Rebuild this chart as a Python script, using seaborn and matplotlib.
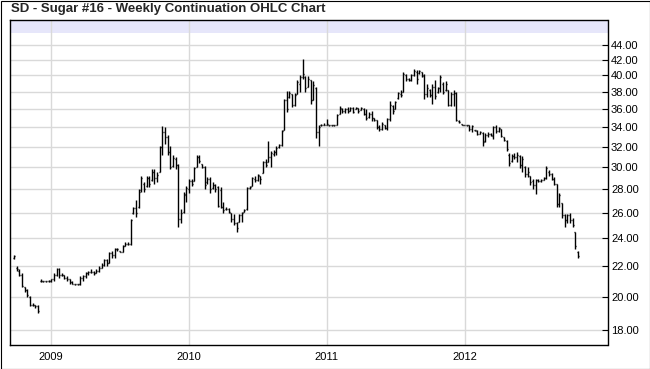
import pandas as pd
import seaborn as sns
import matplotlib
matplotlib.use('Agg')
import matplotlib.pyplot as plt
import matplotlib.dates as mdates
from matplotlib.ticker import FixedLocator, FormatStrFormatter, NullLocator
from matplotlib.patches import Rectangle

title = 'SD - Sugar #16 - Weekly Continuation OHLC Chart'
first_week = '2008-09-26'
y_ticks = [18, 20, 22, 24, 26, 28, 30, 32, 34, 36, 38, 40, 42, 44]
year_ticks = ['2009-01-01', '2010-01-01', '2011-01-01', '2012-01-01']

# weekly bars (late 2008 -> Oct 2012)
highs = [
    22.8, 22.0, 21.8, 21.5, 20.6, 20.5, 20.05, 19.6, 19.5, 19.5,
    21.1, 21.0, 21.0, 21.05, 21.1, 21.5, 21.9, 21.9, 21.5, 21.4,
    21.3, 21.1, 21.0, 20.8, 20.8, 21.3, 21.4, 21.6, 21.7, 21.8,
    21.7, 21.8, 22.0, 22.2, 22.5, 22.5, 23.0, 23.1, 23.3, 23.3,
    23.1, 23.5, 23.7, 23.7, 25.5, 26.5, 27.1, 28.0, 29.2, 28.6,
    29.2, 29.2, 29.8, 29.8, 29.6,
    32.1, 34.1, 34.0, 33.2, 32.1, 31.2, 31.0, 30.3, 26.3, 27.8,
    28.3, 28.9, 28.9, 30.0, 31.2, 31.2, 30.3, 30.1, 29.1, 29.1,
    28.6, 28.5, 28.3, 28.2, 26.9, 26.5, 26.4, 26.0, 25.9, 25.3,
    25.9, 26.1, 26.3, 28.2, 28.3, 29.1, 29.2, 29.4, 29.2, 30.6,
    30.8, 32.6, 31.6, 31.7, 32.1, 32.3, 33.7, 37.1, 38.1, 38.1,
    37.8, 37.9, 39.4,
    40.1, 42.1, 39.9, 39.9, 39.4, 39.3, 38.6, 34.2, 34.4, 34.5,
    34.9, 34.25, 34.25, 34.25, 35.4, 36.3, 36.1, 36.1, 36.2, 36.2,
    36.2, 36.2, 36.1, 36.2, 36.1, 36.0, 35.7, 35.8, 35.0, 34.8,
    34.3, 34.6, 34.2, 35.0, 36.9, 36.5, 36.9, 38.0, 38.2, 40.5,
    40.2, 39.7, 40.2, 40.8, 40.7, 40.7, 40.5, 40.2, 38.9, 38.3,
    38.9, 39.4, 38.6, 40.1, 39.2,
    39.3, 38.2, 38.0, 38.2, 38.0, 34.8, 34.4, 34.3, 34.25, 34.3,
    34.2, 33.75, 33.7, 33.6, 33.5, 33.4, 33.5, 33.4, 34.1, 34.2,
    34.0, 33.8, 33.0, 32.7, 31.4, 31.3, 31.4, 31.5, 31.2, 31.1,
    30.1, 30.0, 29.2, 28.9, 28.9, 28.9, 28.9, 29.1, 30.1, 29.7,
    29.5, 29.1, 28.5, 27.7, 26.8, 25.9, 25.9, 26.0, 25.6, 24.5,
    23.1,
]

lows = [
    22.5, 21.7, 21.3, 20.6, 20.3, 20.0, 19.4, 19.4, 19.3, 19.0,
    20.9, 20.95, 20.95, 20.95, 20.9, 21.0, 21.3, 21.2, 21.3, 21.1,
    21.0, 20.8, 20.8, 20.75, 20.75, 20.75, 21.0, 21.2, 21.4, 21.5,
    21.4, 21.5, 21.6, 21.9, 22.0, 22.0, 22.2, 22.6, 22.6, 23.1,
    23.0, 23.0, 23.4, 23.5, 23.5, 25.9, 25.7, 26.4, 27.8, 27.8,
    28.2, 28.2, 28.7, 28.5, 28.6,
    29.6, 31.2, 32.3, 31.2, 29.8, 30.0, 29.8, 24.9, 25.2, 26.0,
    26.9, 27.7, 28.3, 28.7, 30.0, 30.4, 29.9, 28.0, 28.5, 27.7,
    28.0, 27.8, 26.5, 26.4, 26.0, 26.2, 26.0, 25.3, 25.0, 24.5,
    25.3, 25.3, 26.1, 26.2, 28.0, 28.3, 28.6, 28.7, 28.5, 29.5,
    30.0, 30.5, 30.0, 31.1, 31.2, 31.9, 32.1, 33.7, 35.7, 37.3,
    36.2, 36.4, 37.7,
    38.0, 39.5, 38.0, 38.6, 36.6, 37.0, 32.9, 32.1, 34.1, 34.2,
    34.2, 34.15, 34.15, 34.15, 34.2, 35.4, 35.6, 35.6, 35.6, 35.8,
    35.6, 36.0, 35.6, 35.9, 35.3, 34.8, 35.0, 34.7, 34.7, 33.8,
    33.6, 33.7, 33.8, 33.7, 34.7, 35.4, 36.0, 37.2, 37.4, 38.0,
    39.3, 39.3, 39.3, 39.9, 39.0, 40.2, 39.8, 37.2, 37.4, 37.4,
    36.6, 37.2, 37.9, 38.0, 37.7,
    38.1, 36.3, 36.3, 36.3, 34.7, 34.5, 34.2, 34.2, 34.15, 33.6,
    33.5, 33.65, 33.2, 33.3, 32.1, 32.5, 33.0, 33.1, 32.8, 33.4,
    33.5, 33.0, 32.6, 31.6, 30.1, 30.5, 30.8, 30.5, 29.9, 29.6,
    29.1, 29.1, 28.4, 28.0, 27.6, 28.6, 28.6, 28.8, 28.9, 29.2,
    28.8, 28.4, 26.5, 26.5, 25.6, 24.9, 25.2, 25.2, 24.9, 23.2,
    22.6,
]

opens = [
    22.6, 21.9, 21.7, 21.4, 20.6, 20.4, 20.0, 19.5, 19.5, 19.4,
    21.0, 21.0, 21.0, 21.0, 21.0, 21.1, 21.4, 21.8, 21.4, 21.4,
    21.2, 21.1, 20.9, 20.8, 20.8, 20.8, 21.2, 21.3, 21.5, 21.6,
    21.6, 21.5, 21.7, 21.9, 22.1, 22.4, 22.2, 22.9, 22.8, 23.2,
    23.1, 23.0, 23.4, 23.6, 23.6, 26.0, 26.4, 26.5, 27.9, 28.5,
    28.3, 29.0, 28.8, 29.6, 29.0,
    29.6, 32.0, 33.5, 33.0, 31.5, 30.1, 30.8, 30.2, 25.5, 26.1,
    27.5, 28.0, 28.7, 28.7, 30.0, 31.0, 30.3, 30.0, 28.6, 28.9,
    28.1, 28.4, 28.2, 27.9, 26.5, 26.3, 26.3, 26.0, 25.5, 25.2,
    25.3, 25.8, 26.1, 26.3, 28.1, 28.3, 28.9, 28.8, 29.2, 29.5,
    30.5, 30.5, 31.0, 31.3, 31.5, 32.0, 32.2, 33.7, 37.0, 37.4,
    37.7, 36.5, 37.7,
    39.0, 39.8, 39.8, 38.6, 39.4, 37.0, 38.5, 33.5, 34.2, 34.3,
    34.3, 34.2, 34.2, 34.2, 34.2, 35.4, 36.0, 35.8, 36.0, 35.8,
    36.1, 36.0, 36.1, 35.9, 36.0, 35.5, 35.1, 35.5, 35.0, 34.8,
    34.0, 33.8, 34.2, 33.9, 34.9, 36.4, 36.0, 37.3, 37.8, 38.0,
    40.1, 39.5, 39.4, 40.0, 40.5, 40.3, 40.5, 40.0, 37.8, 38.2,
    37.6, 38.6, 38.0, 38.4, 39.0,
    38.2, 38.2, 36.5, 37.8, 37.9, 34.7, 34.4, 34.25, 34.2, 34.2,
    33.8, 33.7, 33.6, 33.3, 33.4, 32.6, 33.2, 33.3, 33.1, 34.0,
    33.6, 33.8, 33.0, 32.6, 31.2, 30.6, 31.1, 31.0, 31.1, 30.2,
    30.0, 29.4, 29.2, 28.7, 28.4, 28.8, 28.7, 28.8, 29.0, 29.6,
    29.4, 28.9, 28.5, 26.7, 26.8, 25.8, 25.4, 25.8, 25.4, 24.5,
    23.0,
]

closes = [
    22.7, 21.8, 21.4, 20.7, 20.4, 20.1, 19.5, 19.5, 19.4, 19.1,
    21.0, 21.0, 21.0, 21.0, 21.1, 21.4, 21.8, 21.4, 21.4, 21.2,
    21.1, 20.9, 20.8, 20.8, 20.8, 21.2, 21.3, 21.5, 21.6, 21.6,
    21.5, 21.7, 21.9, 22.1, 22.4, 22.2, 22.9, 22.8, 23.2, 23.2,
    23.0, 23.4, 23.6, 23.6, 25.4, 26.4, 26.0, 27.8, 29.0, 28.0,
    29.0, 28.5, 29.6, 29.0, 29.3,
    32.0, 33.5, 33.0, 31.5, 30.0, 30.9, 30.2, 25.5, 26.0, 27.6,
    28.1, 28.7, 28.5, 29.9, 31.0, 30.6, 30.0, 28.4, 28.9, 28.0,
    28.4, 28.0, 26.6, 26.5, 26.2, 26.3, 26.1, 25.5, 25.2, 24.8,
    25.8, 26.0, 26.2, 28.1, 28.2, 29.0, 28.8, 29.3, 28.9, 30.5,
    30.2, 31.0, 31.4, 31.5, 31.9, 32.2, 33.6, 37.0, 36.0, 37.9,
    36.5, 37.6, 39.2,
    39.8, 40.2, 38.5, 39.6, 37.0, 38.8, 33.5, 34.0, 34.2, 34.3,
    34.4, 34.2, 34.2, 34.2, 35.3, 36.1, 35.8, 36.0, 35.8, 36.1,
    35.7, 36.1, 35.8, 36.1, 35.5, 35.0, 35.5, 35.0, 34.8, 34.0,
    33.8, 34.4, 33.9, 34.9, 36.5, 35.8, 36.8, 37.9, 37.6, 40.2,
    39.5, 39.4, 40.0, 40.6, 39.5, 40.6, 39.9, 37.8, 38.5, 37.6,
    38.6, 37.5, 38.4, 39.8, 38.0,
    38.9, 36.5, 37.8, 37.9, 34.8, 34.6, 34.3, 34.2, 34.2, 33.8,
    34.1, 33.7, 33.3, 33.5, 32.5, 33.2, 33.3, 33.2, 34.0, 33.6,
    33.9, 33.1, 32.7, 31.8, 30.4, 31.1, 31.0, 31.2, 30.2, 30.8,
    29.4, 29.6, 28.6, 28.4, 28.8, 28.7, 28.8, 29.0, 29.9, 29.4,
    28.9, 28.5, 26.7, 27.5, 25.8, 25.4, 25.8, 25.4, 25.0, 23.4,
    22.7,
]

dates = pd.date_range(first_week, periods=len(highs), freq='W-FRI')
df = pd.DataFrame({'date': dates, 'open': opens, 'high': highs,
                   'low': lows, 'close': closes})

sns.set_style('white')
plt.rcParams['font.family'] = ['Liberation Sans', 'DejaVu Sans']

fig = plt.figure(figsize=(6.5, 3.69), dpi=100)
ax = fig.add_axes([10 / 650, 24 / 369, 597.5 / 650, 325 / 369])

# OHLC bars: high-low line, open tick left, close tick right
x = mdates.date2num(df['date'])
half = 2.6
ax.vlines(x, df['low'], df['high'], color='black', lw=1.0, zorder=3)
ax.hlines(df['open'], x - half, x, color='black', lw=1.0, zorder=3)
ax.hlines(df['close'], x, x + half, color='black', lw=1.0, zorder=3)

ax.set_yscale('log')
ax.set_ylim(17.18, 47.6)
ax.yaxis.set_major_locator(FixedLocator(y_ticks))
ax.yaxis.set_major_formatter(FormatStrFormatter('%.2f'))
ax.yaxis.set_minor_locator(NullLocator())
ax.yaxis.tick_right()

ax.set_xlim(mdates.datestr2num('2008-09-15'), mdates.datestr2num('2013-01-12'))
ax.xaxis.set_major_locator(FixedLocator(mdates.datestr2num(year_ticks)))
ax.xaxis.set_major_formatter(mdates.DateFormatter('%Y'))
ax.xaxis.set_minor_locator(NullLocator())

ax.grid(True, color='#d9d9d9', lw=1.0)
ax.set_axisbelow(True)
ax.add_patch(Rectangle((0, 0.96), 1, 0.04, transform=ax.transAxes,
                       facecolor='#e6e6fa', edgecolor='none', zorder=0.2))

ax.tick_params(axis='y', direction='in', length=4, width=0.8, pad=2.5,
               labelsize=8, colors='black')
ax.tick_params(axis='x', direction='out', length=2, width=0.8, pad=3,
               labelsize=8, colors='black')
for s in ax.spines.values():
    s.set_color('black')
    s.set_linewidth(1.0)
ax.set_xlabel('')
ax.set_ylabel('')

fig.text(11 / 650, 1 - 9 / 369, title, fontsize=9.5, fontweight='bold',
         va='center', ha='left')
fig.add_artist(Rectangle((0.5 / 650, 0.5 / 369), 649 / 650, 368 / 369,
                         transform=fig.transFigure, fill=False,
                         edgecolor='black', lw=0.8))

fig.savefig('out.png', dpi=100)
